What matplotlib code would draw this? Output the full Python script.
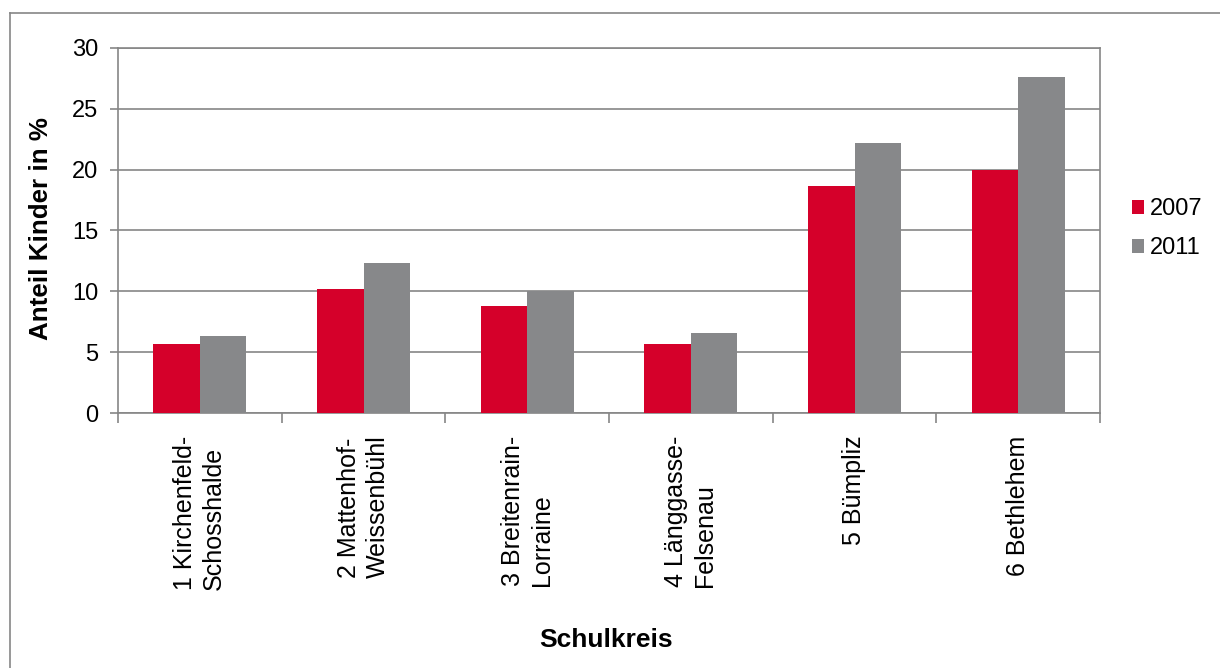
import matplotlib
matplotlib.use("Agg")
import matplotlib.pyplot as plt
import numpy as np
from matplotlib.lines import Line2D

categories = ["1 Kirchenfeld-\nSchosshalde", "2 Mattenhof-\nWeissenbühl", "3 Breitenrain-\nLorraine",
              "4 Länggasse-\nFelsenau", "5 Bümpliz", "6 Bethlehem"]
series_names = ["2007", "2011"]
values_2007 = [5.7, 10.2, 8.8, 5.65, 18.65, 20.0]
values_2011 = [6.35, 12.3, 10.0, 6.55, 22.2, 27.6]
yticks = [0, 5, 10, 15, 20, 25, 30]

RED = "#D5002A"
GRAY = "#87888A"
LINE = "#868686"

plt.rcParams['font.family'] = ['Liberation Sans', 'DejaVu Sans']

fig = plt.figure(figsize=(12.2, 6.68), dpi=100)
ax = fig.add_axes([118/1220, 1-413.3/668, (1100-118)/1220, (413.3-47.7)/668])

x = np.arange(len(categories))
w = 0.285
ax.bar(x - w/2, values_2007, width=w, color=RED, label=series_names[0], zorder=3)
ax.bar(x + w/2, values_2011, width=w, color=GRAY, label=series_names[1], zorder=3)

ax.set_xlim(-0.5, len(categories) - 0.5)
ax.set_ylim(0, 30)
ax.set_yticks(yticks)
ax.yaxis.grid(True, color=LINE, linewidth=1.2, zorder=0)
ax.set_axisbelow(True)

# category boundaries as tick marks, labels at centers
ax.set_xticks(np.arange(-0.5, len(categories), 1.0))
ax.set_xticklabels([])
ax.set_xticks(x, minor=True)
ax.set_xticklabels(categories, minor=True, rotation=90, ha='center', va='top',
                   multialignment='left', fontsize=18, linespacing=1.25)
ax.tick_params(axis='x', which='minor', length=0, pad=16)
ax.tick_params(axis='x', which='major', length=7, width=1.2, color=LINE, direction='out')
ax.tick_params(axis='y', length=6, width=1.2, color=LINE, labelsize=17, pad=8)

for s in ax.spines.values():
    s.set_color(LINE)
    s.set_linewidth(1.2)

ax.set_ylabel("Anteil Kinder in %", fontsize=18.7, fontweight='bold')
ax.yaxis.set_label_coords(-0.066, 0.505)
ax.set_xlabel("Schulkreis", fontsize=19, fontweight='bold')
ax.xaxis.set_label_coords(0.497, -0.587)

leg = ax.legend(loc='center left', bbox_to_anchor=(1.0326, 0.505), frameon=False,
                fontsize=17, handlelength=0.5, handleheight=0.5, handletextpad=0.25,
                labelspacing=0.72, borderaxespad=0, borderpad=0)

# outer chart border
fig.add_artist(Line2D([10/1220, 1.0], [1-13/668, 1-13/668], transform=fig.transFigure,
                      color=LINE, linewidth=1.2))
fig.add_artist(Line2D([10/1220, 10/1220], [1-13/668, 0.0], transform=fig.transFigure,
                      color=LINE, linewidth=1.2))

fig.savefig("out.png", dpi=100, facecolor='white')
